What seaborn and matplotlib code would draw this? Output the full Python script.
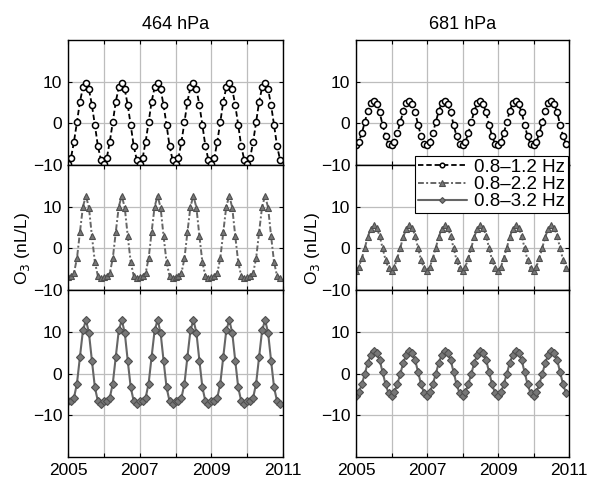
import numpy as np
import pandas as pd
import matplotlib
matplotlib.use("Agg")
import matplotlib.pyplot as plt
import seaborn as sns

sns.set_style("ticks")
plt.rcParams['font.family'] = ['Liberation Sans', 'DejaVu Sans']
plt.rcParams['text.color'] = 'black'
plt.rcParams['axes.labelcolor'] = 'black'
plt.rcParams['xtick.color'] = 'black'
plt.rcParams['ytick.color'] = 'black'

# ---------------- data (monthly, Jan 2005 - Dec 2010) ----------------
n_months = 72
start_year = 2005

titles = ["464 hPa", "681 hPa"]
band_labels = ["0.8\u20131.2 Hz", "0.8\u20132.2 Hz", "0.8\u20133.2 Hz"]

o3_464_b12 = [
    -9.7, -8.3, -4.4, 0.3, 5.2, 8.6, 9.7, 8.2, 4.4, -0.4, -5.4, -8.7,
    -9.7, -8.3, -4.4, 0.3, 5.2, 8.6, 9.7, 8.2, 4.4, -0.4, -5.4, -8.7,
    -9.7, -8.3, -4.4, 0.3, 5.2, 8.6, 9.7, 8.2, 4.4, -0.4, -5.4, -8.7,
    -9.7, -8.3, -4.4, 0.3, 5.2, 8.6, 9.7, 8.2, 4.4, -0.4, -5.4, -8.7,
    -9.7, -8.3, -4.4, 0.3, 5.2, 8.6, 9.7, 8.2, 4.4, -0.4, -5.4, -8.7,
    -9.7, -8.3, -4.4, 0.3, 5.2, 8.6, 9.7, 8.2, 4.4, -0.4, -5.4, -8.7,
]
o3_464_b22 = [
    -6.9, -6.6, -5.9, -2.4, 3.9, 10.0, 12.6, 9.8, 3.0, -3.3, -6.6, -7.1,
    -6.9, -6.6, -5.9, -2.4, 3.9, 10.0, 12.6, 9.8, 3.0, -3.3, -6.6, -7.1,
    -6.9, -6.6, -5.9, -2.4, 3.9, 10.0, 12.6, 9.8, 3.0, -3.3, -6.6, -7.1,
    -6.9, -6.6, -5.9, -2.4, 3.9, 10.0, 12.6, 9.8, 3.0, -3.3, -6.6, -7.1,
    -6.9, -6.6, -5.9, -2.4, 3.9, 10.0, 12.6, 9.8, 3.0, -3.3, -6.6, -7.1,
    -6.9, -6.6, -5.9, -2.4, 3.9, 10.0, 12.6, 9.8, 3.0, -3.3, -6.6, -7.1,
]
o3_464_b32 = [
    -6.7, -6.5, -5.8, -2.4, 4.0, 10.3, 12.8, 9.8, 3.1, -3.3, -6.6, -7.2,
    -6.7, -6.5, -5.8, -2.4, 4.0, 10.3, 12.8, 9.8, 3.1, -3.3, -6.6, -7.2,
    -6.7, -6.5, -5.8, -2.4, 4.0, 10.3, 12.8, 9.8, 3.1, -3.3, -6.6, -7.2,
    -6.7, -6.5, -5.8, -2.4, 4.0, 10.3, 12.8, 9.8, 3.1, -3.3, -6.6, -7.2,
    -6.7, -6.5, -5.8, -2.4, 4.0, 10.3, 12.8, 9.8, 3.1, -3.3, -6.6, -7.2,
    -6.7, -6.5, -5.8, -2.4, 4.0, 10.3, 12.8, 9.8, 3.1, -3.3, -6.6, -7.2,
]
o3_681_b12 = [
    -5.3, -4.4, -2.3, 0.4, 3.0, 4.9, 5.4, 4.6, 2.6, -0.4, -3.1, -4.9,
    -5.3, -4.4, -2.3, 0.4, 3.0, 4.9, 5.4, 4.6, 2.6, -0.4, -3.1, -4.9,
    -5.3, -4.4, -2.3, 0.4, 3.0, 4.9, 5.4, 4.6, 2.6, -0.4, -3.1, -4.9,
    -5.3, -4.4, -2.3, 0.4, 3.0, 4.9, 5.4, 4.6, 2.6, -0.4, -3.1, -4.9,
    -5.3, -4.4, -2.3, 0.4, 3.0, 4.9, 5.4, 4.6, 2.6, -0.4, -3.1, -4.9,
    -5.3, -4.4, -2.3, 0.4, 3.0, 4.9, 5.4, 4.6, 2.6, -0.4, -3.1, -4.9,
]
o3_681_b22 = [
    -5.4, -4.4, -2.3, 0.2, 2.8, 4.7, 5.6, 4.9, 3.0, 0.0, -2.8, -4.8,
    -5.4, -4.4, -2.3, 0.2, 2.8, 4.7, 5.6, 4.9, 3.0, 0.0, -2.8, -4.8,
    -5.4, -4.4, -2.3, 0.2, 2.8, 4.7, 5.6, 4.9, 3.0, 0.0, -2.8, -4.8,
    -5.4, -4.4, -2.3, 0.2, 2.8, 4.7, 5.6, 4.9, 3.0, 0.0, -2.8, -4.8,
    -5.4, -4.4, -2.3, 0.2, 2.8, 4.7, 5.6, 4.9, 3.0, 0.0, -2.8, -4.8,
    -5.4, -4.4, -2.3, 0.2, 2.8, 4.7, 5.6, 4.9, 3.0, 0.0, -2.8, -4.8,
]
o3_681_b32 = [
    -5.3, -4.5, -2.5, 0.0, 2.6, 4.5, 5.4, 4.9, 3.2, 0.3, -2.6, -4.7,
    -5.3, -4.5, -2.5, 0.0, 2.6, 4.5, 5.4, 4.9, 3.2, 0.3, -2.6, -4.7,
    -5.3, -4.5, -2.5, 0.0, 2.6, 4.5, 5.4, 4.9, 3.2, 0.3, -2.6, -4.7,
    -5.3, -4.5, -2.5, 0.0, 2.6, 4.5, 5.4, 4.9, 3.2, 0.3, -2.6, -4.7,
    -5.3, -4.5, -2.5, 0.0, 2.6, 4.5, 5.4, 4.9, 3.2, 0.3, -2.6, -4.7,
    -5.3, -4.5, -2.5, 0.0, 2.6, 4.5, 5.4, 4.9, 3.2, 0.3, -2.6, -4.7,
]

year_ticks = [2005, 2006, 2007, 2008, 2009, 2010, 2011]
year_labels = ["2005", "", "2007", "", "2009", "", "2011"]
y_ticks = [-10, 0, 10]

# ---------------- figure ----------------
time = start_year + np.arange(n_months) / 12.0
columns = [[o3_464_b12, o3_464_b22, o3_464_b32],
           [o3_681_b12, o3_681_b22, o3_681_b32]]

styles = [
    dict(color="black", linestyle=(0, (3, 1.6)), linewidth=1.3, marker="o",
         markersize=4.4, markerfacecolor="white", markeredgecolor="black",
         markeredgewidth=1.1),
    dict(color="#666666", linestyle=(0, (3, 1.2, 1, 1.2)), linewidth=1.4, marker="^",
         markersize=5.0, markerfacecolor="#777777", markeredgecolor="#4f4f4f",
         markeredgewidth=0.8),
    dict(color="#666666", linestyle="-", linewidth=1.5, marker="D",
         markersize=4.0, markerfacecolor="#777777", markeredgecolor="#4f4f4f",
         markeredgewidth=0.8),
]

W, H = 590, 479
fig = plt.figure(figsize=(W / 100, H / 100), dpi=100)

col_x = [(68, 283), (356, 569)]
row_y = [(40, 165), (165, 290), (290, 457)]
row_ylim = [(-10, 20), (-10, 20), (-20, 20)]
ylab_x = [22, 312]
fs = 12.5

handles = []
for c in range(2):
    x0, x1 = col_x[c]
    for r in range(3):
        y0, y1 = row_y[r]
        ax = fig.add_axes([x0 / W, 1 - y1 / H, (x1 - x0) / W, (y1 - y0) / H])
        df = pd.DataFrame({"time": time, "o3": columns[c][r]})
        sns.lineplot(data=df, x="time", y="o3", ax=ax, **styles[r])
        if c == 1:
            handles.append(ax.get_lines()[-1])
        ax.set_xlim(2005, 2011)
        ax.set_ylim(*row_ylim[r])
        ax.set_yticks(y_ticks)
        ax.set_yticklabels(["\u221210", "0", "10"])
        ax.set_xticks(year_ticks)
        if r == 2:
            ax.set_xticklabels(year_labels)
        else:
            ax.set_xticklabels([])
        ax.set_xlabel("")
        ax.set_ylabel("")
        ax.grid(True, color="#bdbdbd", linewidth=0.9)
        ax.set_axisbelow(True)
        ax.tick_params(direction="in", length=3, width=0.8, top=True, right=True,
                       labelsize=fs, pad=4, colors="black")
        for s in ax.spines.values():
            s.set_linewidth(1.0)
            s.set_color("black")
        if r == 0:
            ax.set_title(titles[c], fontsize=13, pad=8, color="black")
    fig.text(ylab_x[c] / W, 1 - 248 / H, "O$_3$ (nL/L)", rotation=90,
             ha="center", va="center", fontsize=fs, color="black")

leg = fig.legend(handles, band_labels, loc="upper right",
                 bbox_to_anchor=(568 / W, 1 - 156 / H), fontsize=13.5,
                 frameon=True, fancybox=False, framealpha=1, edgecolor="black",
                 borderpad=0.15, labelspacing=0.0, handlelength=2.6,
                 handletextpad=0.4, borderaxespad=0, markerscale=0.75)
leg.get_frame().set_linewidth(0.8)
for t in leg.get_texts():
    t.set_color("black")

fig.savefig("out.png", dpi=100)
